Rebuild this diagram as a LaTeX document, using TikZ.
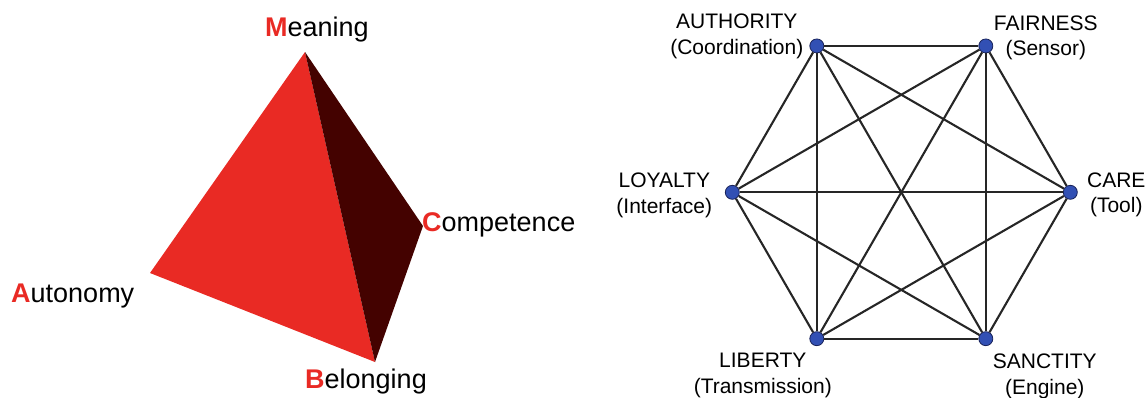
\documentclass[tikz,border=0pt]{standalone}
\usepackage{fontspec}
\setmainfont{Liberation Sans}
\usepackage{xcolor}
\usetikzlibrary{calc}
\definecolor{TetraRed}{RGB}{233,42,36}
\definecolor{TetraDark}{RGB}{68,2,0}
\definecolor{NodeBlue}{RGB}{50,80,180}
\definecolor{NodeRim}{RGB}{25,35,90}
\tikzset{
    corner/.style={anchor=base west, inner sep=0pt, font=\fontsize{27}{32}\selectfont},
    moralnode/.style={circle, draw=NodeRim, fill=NodeBlue, line width=0.8pt, minimum size=14pt, inner sep=0pt},
    morallabel/.style={align=center, inner sep=0pt, font=\fontsize{21}{25.5}\selectfont},
    link/.style={draw=black!85, line width=2.1pt}
}
\newcommand{\capletter}[1]{\textcolor{TetraRed}{\bfseries #1}}

\begin{document}
\begin{tikzpicture}[x=1pt, y=-1pt]
    \useasboundingbox (0,0) rectangle (1148,397);

    % 1. TETRAHEDRON
    \coordinate (M) at (305,52);
    \coordinate (C) at (423,226);
    \coordinate (A) at (150,273);
    \coordinate (B) at (375,362);
    \fill[TetraRed]  (M) -- (A) -- (B) -- cycle;
    \fill[TetraDark] (M) -- (C) -- (B) -- cycle;

    \node[corner] (meaning)    at (265,36)  {\capletter{M}eaning};
    \node[corner] (competence) at (422,231) {\capletter{C}ompetence};
    \node[corner] (autonomy)   at (11,302)  {\capletter{A}utonomy};
    \node[corner] (belonging)  at (305,388) {\capletter{B}elonging};

    % 2. COMPLETE GRAPH ON A HEXAGON
    \coordinate (hexc) at (901.3,192.3);
    \foreach \name/\ang in {care/0, fairness/-60, authority/-120,
                            loyalty/180, liberty/120, sanctity/60}
        \node[moralnode] (\name) at ($(hexc)+(\ang:169)$) {};

    \foreach \a/\b in {authority/fairness, authority/care, authority/sanctity,
                       authority/liberty, authority/loyalty,
                       fairness/care, fairness/sanctity, fairness/liberty,
                       fairness/loyalty,
                       care/sanctity, care/liberty, care/loyalty,
                       sanctity/liberty, sanctity/loyalty,
                       liberty/loyalty}
        \draw[link] (\a) -- (\b);

    % labels next to each vertex
    \node[morallabel] (authority-l) at ($(authority)+(-80,-9.5)$) {AUTHORITY\\(Coordination)};
    \node[morallabel] (fairness-l)  at ($(fairness)+(60,-8)$)     {FAIRNESS\\(Sensor)};
    \node[morallabel] (care-l)      at ($(care)+(46,2.5)$)        {CARE\\(Tool)};
    \node[morallabel] (sanctity-l)  at ($(sanctity)+(59,37.5)$)   {SANCTITY\\(Engine)};
    \node[morallabel] (liberty-l)   at ($(liberty)+(-54,37)$)     {LIBERTY\\(Transmission)};
    \node[morallabel] (loyalty-l)   at ($(loyalty)+(-68,3)$)      {LOYALTY\\(Interface)};

\end{tikzpicture}
\end{document}
